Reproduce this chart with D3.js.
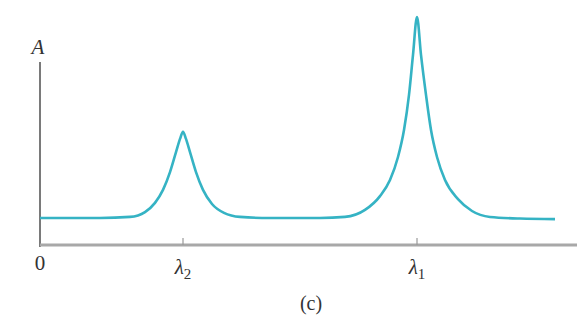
<!DOCTYPE html>
<html>
<head>
<meta charset="utf-8">
<script src="https://cdn.jsdelivr.net/npm/d3@7"></script>
<style>
  body { margin: 0; background: #fff; }
  text { font-family: "Liberation Serif", "DejaVu Serif", serif; fill: #333; }
</style>
</head>
<body>
<div id="chart"></div>
<script>
// wavelength position (arbitrary units from origin) and absorbance A (baseline = 1)
var waveX = [0, 60, 90, 105, 115, 123, 130, 136, 140, 143, 146, 150, 156, 163, 172, 184, 200, 230, 280,
             305, 325, 340, 350, 358, 364, 369, 373, 377, 381, 386, 391, 397, 405, 418, 432, 450, 480, 515];
var absA  = [1.0, 1.0, 1.04, 1.22, 1.56, 2.04, 2.70, 3.44, 3.93, 4.19, 3.93, 3.44, 2.70, 2.04, 1.52, 1.19, 1.04, 1.0, 1.0,
             1.04, 1.30, 1.81, 2.41, 3.26, 4.26, 5.56, 7.04, 8.44, 7.04, 5.56, 4.26, 3.26, 2.41, 1.70, 1.26, 1.04, 0.98, 0.96];

var tickPos = [143, 377];
var tickLabels = [["λ", "2"], ["λ", "1"]];

var width = 577, height = 322;
var svg = d3.select("#chart").append("svg")
    .attr("width", width)
    .attr("height", height);

var x = d3.scaleLinear().domain([0, 537]).range([40, 577]);
var y = d3.scaleLinear().domain([0, 1]).range([245, 218]);

// y axis
svg.append("line")
    .attr("x1", x(0)).attr("x2", x(0))
    .attr("y1", 62).attr("y2", 247)
    .style("stroke", "#7a7a7a")
    .style("stroke-width", 2);

// x axis
svg.append("line")
    .attr("x1", x(0)).attr("x2", 577)
    .attr("y1", y(0)).attr("y2", y(0))
    .style("stroke", "#a8a8a8")
    .style("stroke-width", 3);

// ticks
svg.selectAll("tick")
    .data(tickPos).enter()
    .append("line")
    .attr("x1", function(d) { return x(d); })
    .attr("x2", function(d) { return x(d); })
    .attr("y1", y(0) - 7).attr("y2", y(0))
    .style("stroke", "#999")
    .style("stroke-width", 1.2);

// curve
var line = d3.line()
    .x(function(d, i) { return x(d); })
    .y(function(d, i) { return y(absA[i]); })
    .curve(d3.curveMonotoneX);

svg.append("path")
    .datum(waveX)
    .attr("d", line)
    .style("fill", "none")
    .style("stroke", "#35b3c4")
    .style("stroke-width", 2.6);

// tick labels
var lbl = svg.selectAll("lbl")
    .data(tickPos).enter()
    .append("text")
    .attr("x", function(d) { return x(d); })
    .attr("y", 274)
    .attr("text-anchor", "middle")
    .style("font-size", "21px")
    .style("font-style", "italic");
lbl.append("tspan").text(function(d, i) { return tickLabels[i][0]; });
lbl.append("tspan")
    .attr("dy", 5)
    .style("font-size", "15px")
    .style("font-style", "normal")
    .text(function(d, i) { return tickLabels[i][1]; });

svg.append("text")
    .attr("x", x(0)).attr("y", 270)
    .attr("text-anchor", "middle")
    .style("font-size", "21px")
    .text("0");

svg.append("text")
    .attr("x", x(0) - 2).attr("y", 54)
    .attr("text-anchor", "middle")
    .style("font-size", "21px")
    .style("font-style", "italic")
    .text("A");

svg.append("text")
    .attr("x", 311).attr("y", 310)
    .attr("text-anchor", "middle")
    .style("font-size", "20px")
    .text("(c)");
</script>
</body>
</html>
